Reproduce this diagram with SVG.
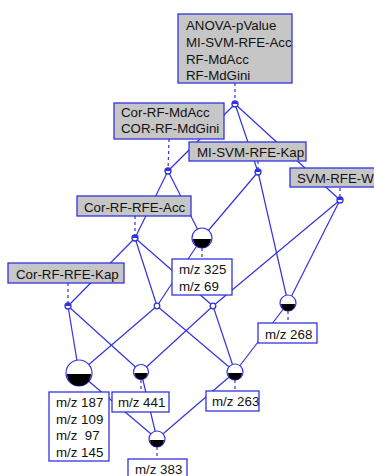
<svg xmlns="http://www.w3.org/2000/svg" width="374" height="476" viewBox="0 0 374 476">
<style>
.e{stroke:#3333dd;stroke-width:1.2;fill:none}
.d{stroke:#3333dd;stroke-width:1.2;fill:none;stroke-dasharray:3,3}
.ab{fill:#c6c6c6;stroke:#3333dd;stroke-width:1.3}
.ob{fill:#ffffff;stroke:#3333dd;stroke-width:1.3}
.t{font-family:"Liberation Sans",Arial,sans-serif;font-size:13.3px;fill:#111}
.sn{fill:#ffffff;stroke:#3333dd;stroke-width:1.3}
.snt{fill:#3333dd}
.bn{fill:#ffffff;stroke:#3333dd;stroke-width:1.2}
.blk{fill:#000}
</style>
<rect width="374" height="476" fill="#ffffff"/>
<g id="edges">
<line class="e" x1="235" y1="104" x2="168" y2="171"/>
<line class="e" x1="235" y1="104" x2="258" y2="172"/>
<line class="e" x1="235" y1="104" x2="340" y2="200"/>
<line class="e" x1="168" y1="171" x2="135" y2="238"/>
<line class="e" x1="168" y1="171" x2="202" y2="238"/>
<line class="e" x1="258" y1="172" x2="202" y2="238"/>
<line class="e" x1="258" y1="172" x2="288" y2="303"/>
<line class="e" x1="340" y1="200" x2="213" y2="306"/>
<line class="e" x1="340" y1="200" x2="288" y2="303"/>
<line class="e" x1="135" y1="238" x2="68" y2="306"/>
<line class="e" x1="135" y1="238" x2="157" y2="306"/>
<line class="e" x1="135" y1="238" x2="213" y2="306"/>
<line class="e" x1="202" y1="238" x2="157" y2="306"/>
<line class="e" x1="68" y1="306" x2="79" y2="373"/>
<line class="e" x1="68" y1="306" x2="141" y2="372"/>
<line class="e" x1="157" y1="306" x2="79" y2="373"/>
<line class="e" x1="157" y1="306" x2="235" y2="372"/>
<line class="e" x1="213" y1="306" x2="141" y2="372"/>
<line class="e" x1="213" y1="306" x2="235" y2="372"/>
<line class="e" x1="288" y1="303" x2="235" y2="372"/>
<line class="e" x1="79" y1="373" x2="157" y2="439"/>
<line class="e" x1="141" y1="372" x2="157" y2="439"/>
<line class="e" x1="235" y1="372" x2="157" y2="439"/>
<line class="d" x1="235" y1="83" x2="235" y2="104"/>
<line class="d" x1="169" y1="139" x2="168" y2="171"/>
<line class="d" x1="258" y1="161" x2="258" y2="172"/>
<line class="d" x1="340" y1="188" x2="340" y2="200"/>
<line class="d" x1="135" y1="216" x2="135" y2="238"/>
<line class="d" x1="68" y1="283" x2="68" y2="306"/>
<line class="d" x1="202" y1="248" x2="202" y2="259"/>
<line class="d" x1="288" y1="311" x2="288" y2="323"/>
<line class="d" x1="235" y1="380" x2="235" y2="391"/>
<line class="d" x1="141" y1="380" x2="141" y2="392"/>
<line class="d" x1="157" y1="447" x2="157" y2="459"/>
</g>
<g id="nA"><circle class="sn" cx="235" cy="104" r="3"/><path class="snt" d="M232,104 A3,3 0 0 1 238,104 Z"/>
<rect class="ab" x="178" y="14" width="114" height="69"/>
<text class="t" x="186" y="30">ANOVA-pValue</text><text class="t" x="186" y="47">MI-SVM-RFE-Acc</text><text class="t" x="186" y="63.5">RF-MdAcc</text><text class="t" x="186" y="80">RF-MdGini</text></g>
<g id="nB"><circle class="sn" cx="168" cy="171" r="3"/><path class="snt" d="M165,171 A3,3 0 0 1 171,171 Z"/>
<rect class="ab" x="114" y="103" width="110" height="36"/>
<text class="t" x="121" y="117">Cor-RF-MdAcc</text><text class="t" x="121" y="133">COR-RF-MdGini</text></g>
<g id="nC"><circle class="sn" cx="258" cy="172" r="3"/><path class="snt" d="M255,172 A3,3 0 0 1 261,172 Z"/>
<rect class="ab" x="189" y="142" width="117" height="19"/>
<text class="t" x="197" y="157">MI-SVM-RFE-Kap</text></g>
<g id="nD"><circle class="sn" cx="340" cy="200" r="3"/><path class="snt" d="M337,200 A3,3 0 0 1 343,200 Z"/>
<rect class="ab" x="290" y="168" width="90" height="19"/>
<text class="t" x="297" y="183">SVM-RFE-W</text></g>
<g id="nE"><circle class="sn" cx="135" cy="238" r="3"/><path class="snt" d="M132,238 A3,3 0 0 1 138,238 Z"/>
<rect class="ab" x="77" y="196" width="114" height="20"/>
<text class="t" x="84" y="211.5">Cor-RF-RFE-Acc</text></g>
<g id="nF"><circle class="sn" cx="68" cy="306" r="3"/><path class="snt" d="M65,306 A3,3 0 0 1 71,306 Z"/>
<rect class="ab" x="8" y="263" width="116" height="20"/>
<text class="t" x="16" y="278.5">Cor-RF-RFE-Kap</text></g>
<g id="nG"><circle class="sn" cx="157" cy="306" r="2.8"/></g>
<g id="nI"><circle class="sn" cx="213" cy="306" r="2.8"/></g>
<g id="nH"><circle class="bn" cx="202" cy="238" r="10"/><path class="blk" d="M193,239 A9,9 0 0 0 211,239 Z"/>
<rect class="ob" x="172" y="259" width="60" height="36"/>
<text class="t" x="179" y="274">m/z 325</text><text class="t" x="179" y="291">m/z 69</text></g>
<g id="nJ"><circle class="bn" cx="288" cy="303" r="8"/><path class="blk" d="M281,304 A7,7 0 0 0 295,304 Z"/>
<rect class="ob" x="258" y="323" width="59" height="20"/>
<text class="t" x="265" y="338.5">m/z 268</text></g>
<g id="nK"><circle class="bn" cx="235" cy="372" r="8"/><path class="blk" d="M228,373 A7,7 0 0 0 242,373 Z"/>
<rect class="ob" x="206" y="391" width="53" height="20"/>
<text class="t" x="212" y="406">m/z 263</text></g>
<g id="nL"><circle class="bn" cx="79" cy="373" r="13"/><path class="blk" d="M67,374 A12,12 0 0 0 91,374 Z"/>
<rect class="ob" x="49" y="392" width="60" height="69"/>
<text class="t" x="56" y="407">m/z 187</text><text class="t" x="56" y="423.5">m/z 109</text><text class="t" x="56" y="440" xml:space="preserve">m/z  97</text><text class="t" x="56" y="456.5">m/z 145</text></g>
<g id="nM"><circle class="bn" cx="141" cy="372" r="7.5"/><path class="blk" d="M134.5,373 A6.5,6.5 0 0 0 147.5,373 Z"/>
<rect class="ob" x="112" y="392" width="57" height="20"/>
<text class="t" x="118" y="407">m/z 441</text></g>
<g id="nN"><circle class="bn" cx="157" cy="439" r="8"/><path class="blk" d="M150,440 A7,7 0 0 0 164,440 Z"/>
<rect class="ob" x="128" y="459" width="59" height="22"/>
<text class="t" x="135" y="474">m/z 383</text></g>
</svg>
